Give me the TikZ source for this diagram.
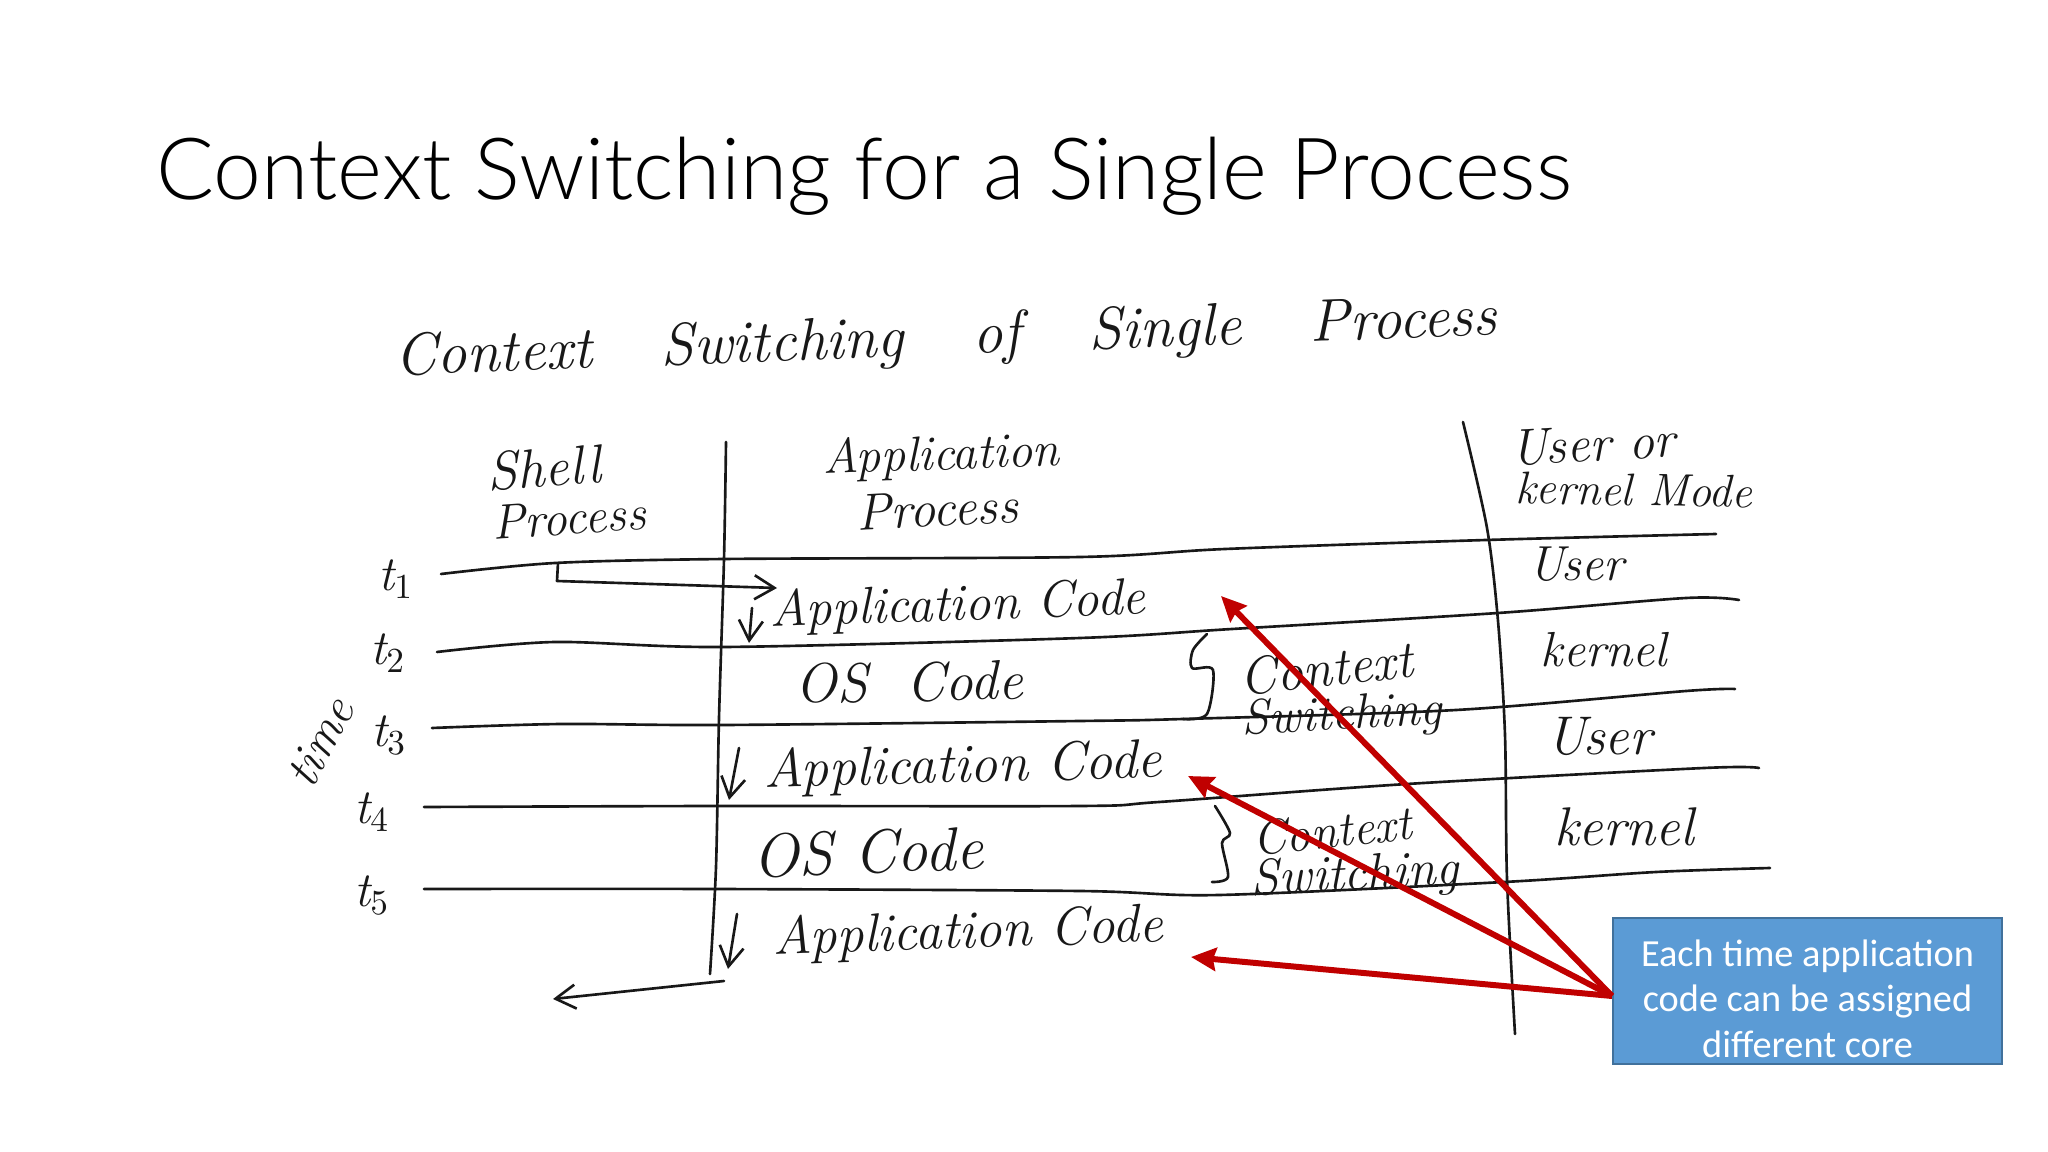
\documentclass[tikz,border=0pt]{standalone}
\usepackage{fontspec}
\newfontfamily\titlefont{Carlito}
\newfontfamily\titlelight{Lato Light}
\usetikzlibrary{arrows.meta,positioning,calc}
\definecolor{inkblack}{RGB}{24,24,24}
\definecolor{notered}{RGB}{192,0,0}
\definecolor{noteblue}{RGB}{91,155,213}
\definecolor{noteedge}{RGB}{65,113,156}
\tikzset{
  inkline/.style={draw=inkblack, line width=0.75pt, line cap=round, line join=round},
  inkarrow/.style={inkline, -{Straight Barb[length=0.2cm,width=0.24cm]}},
  hand/.style={inner sep=0pt, text=inkblack, font=\fontsize{#1}{#1}\selectfont\itshape},
  redarrow/.style={draw=notered, line width=1.7pt, -{Stealth[length=0.25cm,width=0.23cm,inset=0.03cm]}}
}
\begin{document}
\begin{tikzpicture}[x=0.01cm,y=-0.01cm]
  \useasboundingbox (0,0) rectangle (2048,1152);

  %--- Slide title ---
  \node[anchor=base west, inner sep=0pt, font=\titlelight\fontsize{24.4}{30}\selectfont] (title) at (156,200) {Context Switching for a Single Process};

  %--- Handwritten heading ---
  \node[hand=17, rotate=2.1] (heading) at (946,340) {\spaceskip=1.15em Context Switching of Single Process};

  %--- Column headers ---
  \node[hand=15.5, rotate=4] (shell) at (544,468) {Shell};
  \node[hand=14, rotate=4] (shellproc) at (569,518) {Process};
  \node[hand=14, rotate=2] (appl) at (941,457) {Application};
  \node[hand=14.7, rotate=3] (applproc) at (937,509) {Process};
  \node[hand=14.6, rotate=3] (modea) at (1593,444) {User or};
  \node[hand=13, rotate=-1] (modeb) at (1634,490) {kernel Mode};

  %--- Time labels ---
  \node[hand=14] (tone) at (396,579) {t$_1$};
  \node[hand=14] (ttwo) at (388,653) {t$_2$};
  \node[hand=14] (tthree) at (389,735) {t$_3$};
  \node[hand=14] (tfour) at (372,812) {t$_4$};
  \node[hand=14] (tfive) at (372,895) {t$_5$};
  \node[hand=14, rotate=62] (timelbl) at (320,742) {time};

  %--- Time lines ---
  \draw[inkline] plot[smooth] coordinates {(441,574) (555,563) (724,559) (1080,557) (1225,549) (1486,540) (1716,534)};
  \draw[inkline] plot[smooth] coordinates {(437,652) (555,642) (724,647) (1080,638) (1232,629) (1498,613) (1686,598) (1739,600)};
  \draw[inkline] plot[smooth] coordinates {(432,728) (561,724) (724,725) (1080,721) (1183,719) (1456,710) (1686,691) (1735,689)};
  \draw[inkline] plot[smooth] coordinates {(424,807) (716,806) (1080,806) (1159,802) (1407,784) (1704,768) (1759,768)};
  \draw[inkline] plot[smooth] coordinates {(424,889) (716,889) (1080,891) (1219,895) (1504,882) (1656,872) (1770,868)};

  %--- Column rules ---
  \draw[inkline] plot[smooth] coordinates {(726,442) (724,559) (719,718) (716,867) (710,974)};
  \draw[inkline] plot[smooth] coordinates {(1463,422) (1487,528) (1498,621) (1505,735) (1507,879) (1515,1034)};

  %--- Process arrows ---
  \draw[inkarrow] (558,563) -- (557,581) -- (777,588);
  \draw[inkarrow] (752,608) -- (749,643);
  \draw[inkarrow] (739,748) -- (729,800);
  \draw[inkarrow] (737,914) -- (728,969);
  \draw[inkarrow] (724,981) -- (553,999);

  %--- Code rows ---
  \node[hand=14.7, rotate=2] (codea) at (958,607) {Application Code};
  \node[hand=15.8, rotate=1] (osa) at (909,682) {\spaceskip=0.7em OS Code};
  \node[hand=15.6, rotate=1.5] (codeb) at (963,768) {Application Code};
  \node[hand=17.5, rotate=2] (osb) at (868,852) {OS Code};
  \node[hand=15.3, rotate=2] (codec) at (968,934) {Application Code};

  %--- Braces and notes ---
  \draw[inkline] plot[smooth] coordinates {(1207,634) (1193,650) (1192,668) (1213,670) (1207,714) (1183,719)};
  \draw[inkline] plot[smooth] coordinates {(1215,806) (1230,833) (1222,843) (1228,877) (1212,882)};
  \node[hand=15, rotate=6] (ctxa) at (1326,668) {Context};
  \node[hand=14, rotate=3] (swa) at (1342,717) {Switching};
  \node[hand=13.8, rotate=6] (ctxb) at (1332,831) {Context};
  \node[hand=14.5, rotate=3] (swb) at (1355,877) {Switching};

  %--- Mode labels ---
  \node[hand=14] (modeuone) at (1576,564) {User};
  \node[hand=14] (modekone) at (1604,650) {kernel};
  \node[hand=15.5] (modeutwo) at (1599,736) {User};
  \node[hand=15.5] (modektwo) at (1624,827) {kernel};

  %--- Callout ---
  \node[draw=noteedge, fill=noteblue, line width=0.5pt, minimum width=3.89cm, minimum height=1.46cm, inner sep=0pt, align=center, text=white, font=\titlefont\fontsize{10.9}{13.05}\selectfont] (note) at (1807.5,991) {\rule{0pt}{12pt}Each time application\\code can be assigned\\different core};
  \coordinate (notesrc) at ([yshift=-0.05cm]note.west);
  \coordinate (targeta) at (1221,596);
  \coordinate (targetb) at (1188,776);
  \coordinate (targetc) at (1191,957);
  \draw[redarrow] (notesrc) -- (targeta);
  \draw[redarrow] (notesrc) -- (targetb);
  \draw[redarrow] (notesrc) -- (targetc);
\end{tikzpicture}
\end{document}
